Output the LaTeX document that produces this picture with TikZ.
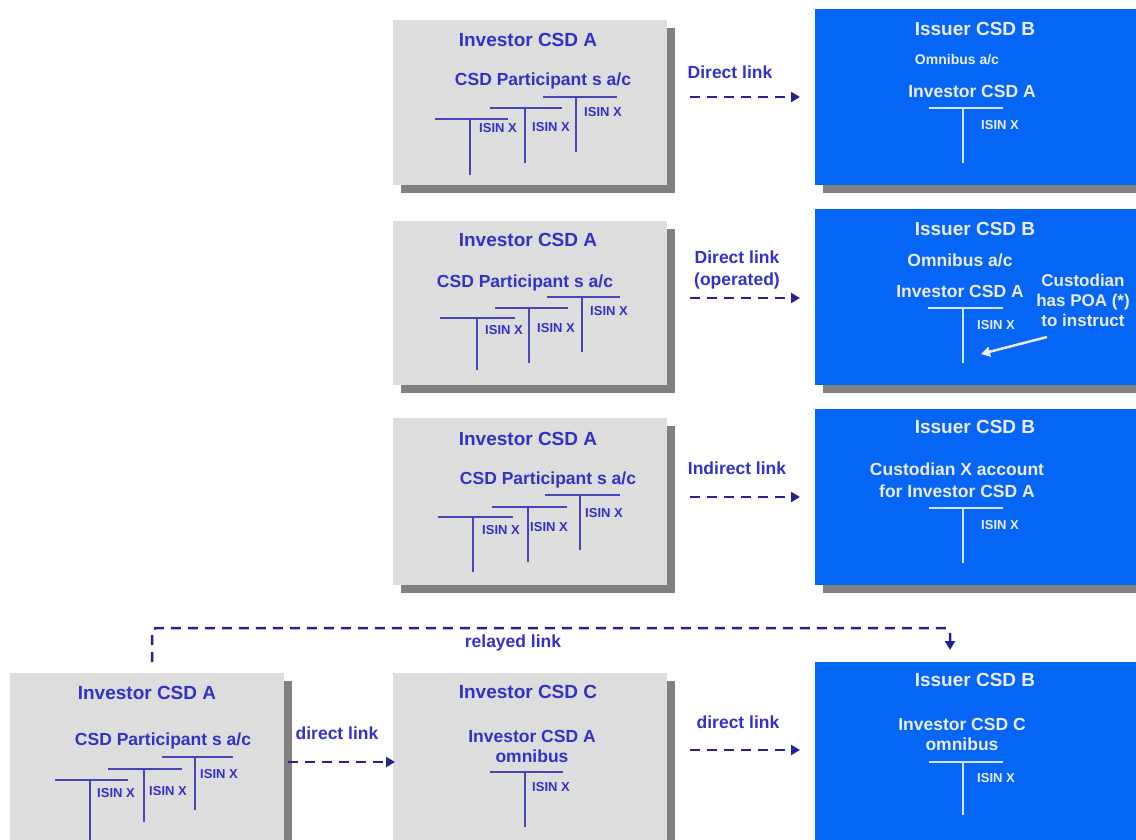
\documentclass[tikz,border=0pt]{standalone}
\usepackage{fontspec}
\setmainfont{Liberation Sans}
\usetikzlibrary{arrows.meta,shadows}
\definecolor{gfill}{RGB}{221,221,221}
\definecolor{shade}{RGB}{128,128,128}
\definecolor{bfill}{RGB}{5,102,245}
\definecolor{gtxt}{RGB}{50,50,200}
\definecolor{gline}{RGB}{70,70,185}
\definecolor{btxt}{RGB}{236,236,250}
\definecolor{bline}{RGB}{215,225,255}
\definecolor{arr}{RGB}{35,35,150}
\newcommand{\tacc}[6]{\draw[#1] (#2,#4) -- (#3,#4) (#5,#4) -- (#5,#6);}
\begin{document}
\begin{tikzpicture}[x=1pt,y=-1pt,
  box/.style={inner sep=0pt, outer sep=0pt, anchor=north west, draw=none},
  graybox/.style={box, fill=gfill, drop shadow={shadow xshift=8pt, shadow yshift=-8pt, fill=shade, opacity=1}},
  bluebox/.style={box, fill=bfill, drop shadow={shadow xshift=8pt, shadow yshift=-8pt, fill=shade, opacity=1}},
  ttl/.style={inner sep=0pt, font=\bfseries\fontsize{19}{22}\selectfont},
  sub/.style={inner sep=0pt, align=center, font=\bfseries\fontsize{17.5}{20}\selectfont},
  lnk/.style={inner sep=0pt, align=center, text=gtxt, font=\bfseries\fontsize{17.5}{22}\selectfont},
  isin/.style={inner sep=0pt, font=\bfseries\fontsize{13}{15}\selectfont},
  gtext/.style={text=gtxt},
  btext/.style={text=btxt},
  gT/.style={draw=gline, line width=2pt},
  bT/.style={draw=bline, line width=1.8pt},
  linkarrow/.style={draw=arr, line width=2.5pt, dash pattern=on 10pt off 7pt, -{Triangle[length=9pt,width=10pt]}},
]
\useasboundingbox (0,0) rectangle (1136,840);
\clip (0,0) rectangle (1136,840);
\fill[white] (0,0) rectangle (1136,840);

% ---------- boxes ----------
\node[graybox, minimum width=274pt, minimum height=165pt] (g1) at (393,20) {};
\node[graybox, minimum width=274pt, minimum height=164pt] (g2) at (393,221) {};
\node[graybox, minimum width=274pt, minimum height=167pt] (g3) at (393,418) {};
\node[graybox, minimum width=274pt, minimum height=185pt] (gA) at (10,673) {};
\node[graybox, minimum width=274pt, minimum height=185pt] (gC) at (393,673) {};
\node[bluebox, minimum width=330pt, minimum height=176pt] (b1) at (815,9) {};
\node[bluebox, minimum width=330pt, minimum height=176pt] (b2) at (815,209) {};
\node[bluebox, minimum width=330pt, minimum height=176pt] (b3) at (815,409) {};
\node[bluebox, minimum width=330pt, minimum height=190pt] (b4) at (815,662) {};

% ---------- row 1 ----------
\node[ttl, gtext] (g1t) at (528,40) {Investor CSD A};
\node[sub, gtext] (g1s) at (543,81) {CSD Participant s a/c};
\tacc{gT}{435}{508}{119}{470}{175}
\tacc{gT}{490}{562}{108}{525}{163}
\tacc{gT}{543}{617}{97}{576}{152}
\node[isin, gtext] (g1i1) at (498,128) {ISIN X};
\node[isin, gtext] (g1i2) at (551,127) {ISIN X};
\node[isin, gtext] (g1i3) at (603,112) {ISIN X};
\node[lnk] (l1) at (730,72) {Direct link};
\coordinate (a1s) at (690,97);
\coordinate (a1e) at (800,97);
\draw[linkarrow] (a1s) -- (a1e);
\node[ttl, btext] (b1t) at (975,29) {Issuer CSD B};
\node[sub, btext, font=\bfseries\fontsize{14}{16}\selectfont] (b1o) at (957,60) {Omnibus a/c};
\node[sub, btext] (b1s) at (972,91) {Investor CSD A};
\tacc{bT}{929}{1003}{108}{963}{163}
\node[isin, btext] (b1i) at (1000,125) {ISIN X};

% ---------- row 2 ----------
\node[ttl, gtext] (g2t) at (528,240) {Investor CSD A};
\node[sub, gtext] (g2s) at (525,283) {CSD Participant s a/c};
\tacc{gT}{440}{515}{318}{477}{370}
\tacc{gT}{495}{568}{308}{529}{363}
\tacc{gT}{547}{620}{297}{582}{352}
\node[isin, gtext] (g2i1) at (504,330) {ISIN X};
\node[isin, gtext] (g2i2) at (556,328) {ISIN X};
\node[isin, gtext] (g2i3) at (609,311) {ISIN X};
\node[lnk] (l2) at (737,270) {Direct link\\(operated)};
\coordinate (a2s) at (690,298);
\coordinate (a2e) at (800,298);
\draw[linkarrow] (a2s) -- (a2e);
\node[ttl, btext] (b2t) at (975,229) {Issuer CSD B};
\node[sub, btext] (b2o) at (960,260) {Omnibus a/c};
\node[sub, btext] (b2s) at (960,291) {Investor CSD A};
\node[sub, btext, font=\bfseries\fontsize{17}{20}\selectfont] (b2c) at (1083,300) {Custodian\\has POA (*)\\to instruct};
\tacc{bT}{928}{1003}{308}{963}{363}
\node[isin, btext] (b2i) at (996,325) {ISIN X};
\coordinate (w1) at (1047,337);
\coordinate (w2) at (981,354);
\draw[draw=btxt, line width=2.5pt, -{Triangle[length=9pt,width=10pt]}] (w1) -- (w2);

% ---------- row 3 ----------
\node[ttl, gtext] (g3t) at (528,439) {Investor CSD A};
\node[sub, gtext] (g3s) at (548,480) {CSD Participant s a/c};
\tacc{gT}{438}{513}{517}{473}{572}
\tacc{gT}{492}{567}{507}{528}{562}
\tacc{gT}{545}{620}{495}{580}{550}
\node[isin, gtext] (g3i1) at (501,530) {ISIN X};
\node[isin, gtext] (g3i2) at (549,527) {ISIN X};
\node[isin, gtext] (g3i3) at (604,513) {ISIN X};
\node[lnk] (l3) at (737,468) {Indirect link};
\coordinate (a3s) at (690,497);
\coordinate (a3e) at (800,497);
\draw[linkarrow] (a3s) -- (a3e);
\node[ttl, btext] (b3t) at (975,427) {Issuer CSD B};
\node[sub, btext, font=\bfseries\fontsize{17.5}{22}\selectfont] (b3s) at (957,480) {Custodian X account\\for Investor CSD A};
\tacc{bT}{929}{1003}{508}{963}{563}
\node[isin, btext] (b3i) at (1000,525) {ISIN X};

% ---------- row 4 ----------
\coordinate (rs) at (152,662);
\coordinate (rc1) at (152,628);
\coordinate (rc2) at (950,628);
\coordinate (re) at (950,650);
\draw[linkarrow, rounded corners=4pt] (rs) -- (rc1) -- (rc2) -- (re);
\node[lnk] (lr) at (513,643) {relayed link};

\node[ttl, gtext] (gAt) at (147,693) {Investor CSD A};
\node[sub, gtext] (gAs) at (163,741) {CSD Participant s a/c};
\tacc{gT}{55}{128}{780}{90}{845}
\tacc{gT}{108}{182}{769}{144}{822}
\tacc{gT}{162}{233}{757}{195}{810}
\node[isin, gtext] (gAi1) at (116,793) {ISIN X};
\node[isin, gtext] (gAi2) at (168,791) {ISIN X};
\node[isin, gtext] (gAi3) at (219,774) {ISIN X};
\node[lnk] (l4) at (337,733) {direct link};
\coordinate (a4s) at (288,762);
\coordinate (a4e) at (395,762);
\draw[linkarrow] (a4s) -- (a4e);

\node[ttl, gtext] (gCt) at (528,692) {Investor CSD C};
\node[sub, gtext, font=\bfseries\fontsize{17.5}{20}\selectfont] (gCs) at (532,746) {Investor CSD A\\omnibus};
\tacc{gT}{490}{563}{772}{525}{827}
\node[isin, gtext] (gCi) at (551,787) {ISIN X};
\node[lnk] (l5) at (738,722) {direct link};
\coordinate (a5s) at (690,750);
\coordinate (a5e) at (800,750);
\draw[linkarrow] (a5s) -- (a5e);

\node[ttl, btext] (b4t) at (975,680) {Issuer CSD B};
\node[sub, btext, font=\bfseries\fontsize{17.5}{20}\selectfont] (b4s) at (962,734) {Investor CSD C\\omnibus};
\tacc{bT}{929}{1003}{762}{963}{815}
\node[isin, btext] (b4i) at (996,778) {ISIN X};
\end{tikzpicture}
\end{document}
